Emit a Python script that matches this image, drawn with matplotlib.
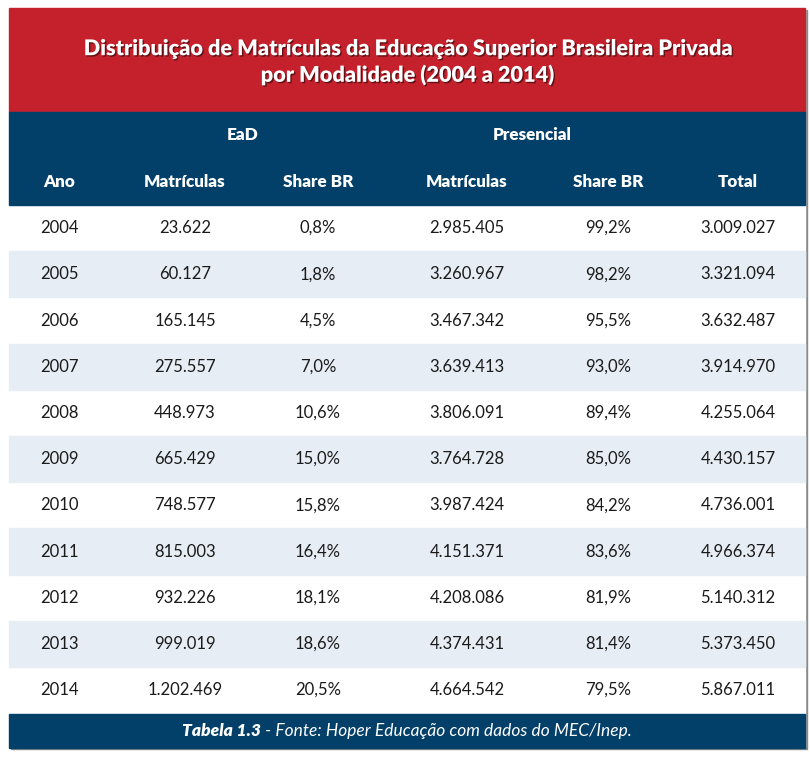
import matplotlib
matplotlib.use("Agg")
import matplotlib.pyplot as plt
from matplotlib.patches import Rectangle
import matplotlib.patheffects as pe

anos = ["2004", "2005", "2006", "2007", "2008", "2009", "2010", "2011", "2012", "2013", "2014"]
ead_matriculas = ["23.622", "60.127", "165.145", "275.557", "448.973", "665.429",
                  "748.577", "815.003", "932.226", "999.019", "1.202.469"]
ead_share = ["0,8%", "1,8%", "4,5%", "7,0%", "10,6%", "15,0%",
             "15,8%", "16,4%", "18,1%", "18,6%", "20,5%"]
pres_matriculas = ["2.985.405", "3.260.967", "3.467.342", "3.639.413", "3.806.091", "3.764.728",
                   "3.987.424", "4.151.371", "4.208.086", "4.374.431", "4.664.542"]
pres_share = ["99,2%", "98,2%", "95,5%", "93,0%", "89,4%", "85,0%",
              "84,2%", "83,6%", "81,9%", "81,4%", "79,5%"]
total = ["3.009.027", "3.321.094", "3.632.487", "3.914.970", "4.255.064", "4.430.157",
         "4.736.001", "4.966.374", "5.140.312", "5.373.450", "5.867.011"]

titulo = "Distribuição de Matrículas da Educação Superior Brasileira Privada\npor Modalidade (2004 a 2014)"
grupos = ["EaD", "Presencial"]
colunas = ["Ano", "Matrículas", "Share BR", "Matrículas", "Share BR", "Total"]
fonte_bold = "Tabela 1.3"
fonte_resto = " - Fonte: Hoper Educação com dados do MEC/Inep."

RED = "#c4212c"
BLUE = "#023f69"
STRIPE = "#e7edf4"

W, H = 810, 761
fig = plt.figure(figsize=(W / 100, H / 100), dpi=100)
ax = fig.add_axes([0, 0, 1, 1])
ax.set_xlim(0, W)
ax.set_ylim(H, 0)
ax.axis("off")

left, right = 9, 805
col_x = [59, 185, 318, 467, 608, 738]
grp_x = [243, 532]
row_top, row_h = 205, 46.2

head = ["Lato", "DejaVu Sans"]
body = ["Lato", "DejaVu Sans"]

# thin shadow round the table
ax.add_patch(Rectangle((left + 1.5, 9.5), right - left, 739, color="#8a8a8a", zorder=0))
ax.add_patch(Rectangle((left, 8), right - left, 739, color="white", zorder=1))

# title band
ax.add_patch(Rectangle((left, 8), right - left, 104, color=RED, zorder=2))
shadow = [pe.withSimplePatchShadow(offset=(1, -1), shadow_rgbFace="black", alpha=0.5)]
ax.text((left + right) / 2, 62, titulo, ha="center", va="center", color="white",
        fontsize=15.6, fontweight="heavy", family=head, linespacing=1.25,
        zorder=3, path_effects=shadow)

# header band
ax.add_patch(Rectangle((left, 112), right - left, 93, color=BLUE, zorder=2))
for g, x in zip(grupos, grp_x):
    ax.text(x, 135, g, ha="center", va="center", color="white", fontsize=12.3,
            fontweight="heavy", family=head, zorder=3)
for c, x in zip(colunas, col_x):
    ax.text(x, 182, c, ha="center", va="center", color="white", fontsize=12.3,
            fontweight="heavy", family=head, zorder=3)

# body rows
linhas = list(zip(anos, ead_matriculas, ead_share, pres_matriculas, pres_share, total))
for i, linha in enumerate(linhas):
    y0 = row_top + i * row_h
    if i % 2 == 1:
        ax.add_patch(Rectangle((left, y0), right - left, row_h, color=STRIPE, zorder=2))
    for val, x in zip(linha, col_x):
        ax.text(x, y0 + row_h / 2, val, ha="center", va="center", color="#1a1a1a",
                fontsize=12, family=body, zorder=3)

# footer band
ftop = row_top + len(anos) * row_h + 1
ax.add_patch(Rectangle((left, ftop), right - left, 34, color=BLUE, zorder=2))
t1 = ax.text(0, 0, fonte_bold, fontsize=12.5, fontweight="heavy", style="italic",
             family=head, color="white")
t2 = ax.text(0, 0, fonte_resto, fontsize=12.5, style="italic", family=head, color="white")
fig.canvas.draw()
r = fig.canvas.get_renderer()
w1 = t1.get_window_extent(r).width
w2 = t2.get_window_extent(r).width
x0 = (left + right) / 2 - (w1 + w2) / 2
yf = ftop + 17
t1.set_position((x0, yf)); t1.set_va("center"); t1.set_zorder(3)
t2.set_position((x0 + w1, yf)); t2.set_va("center"); t2.set_zorder(3)

fig.savefig("out.png", dpi=100)
